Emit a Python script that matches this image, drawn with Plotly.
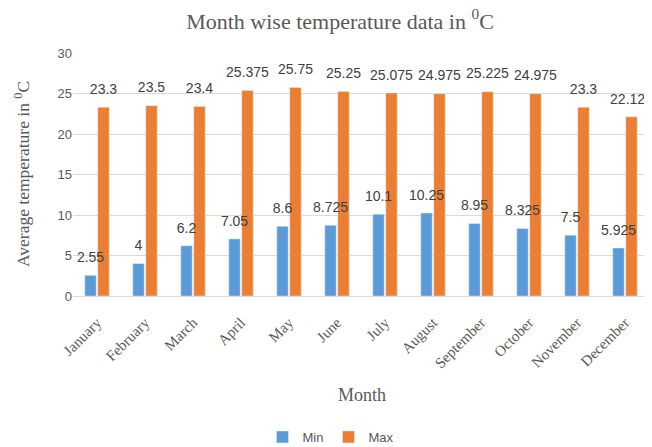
import plotly.graph_objects as go

months = ["January", "February", "March", "April", "May", "June", "July",
          "August", "September", "October", "November", "December"]
min_vals = [2.55, 4, 6.2, 7.05, 8.6, 8.725, 10.1, 10.25, 8.95, 8.325, 7.5, 5.925]
max_vals = [23.3, 23.5, 23.4, 25.375, 25.75, 25.25, 25.075, 24.975, 25.225, 24.975, 23.3, 22.125]
y_ticks = [0, 5, 10, 15, 20, 25, 30]

OFF = 8  # page body margin
W, H = 652 - OFF, 447 - OFF
L, R, T, B = 73 - OFF, 3, 53 - OFF, 151
ph = H - T - B
pw = W - L - R


def px_y(page_y):
    return (T + ph - (page_y - OFF)) / ph


def px_x(page_x):
    return (page_x - OFF - L) / pw


GAP = 0.46
lbl_font = dict(family="Liberation Sans", size=14, color="#404040")
ghost = dict(size=14, color="rgba(0,0,0,0)")

fig = go.Figure()
fig.add_trace(go.Bar(name="Min", x=months, y=min_vals, marker_color="#5B9BD5",
                     offsetgroup="min"))
fig.add_trace(go.Bar(name="Max", x=months, y=max_vals, marker_color="#ED7D31",
                     offsetgroup="max"))
fig.add_trace(go.Scatter(x=months, y=min_vals, mode="markers+text", marker=ghost,
                         text=[str(v) for v in min_vals],
                         textposition="top center", textfont=lbl_font, offsetgroup="min",
                         showlegend=False, hoverinfo="skip", cliponaxis=False))
fig.add_trace(go.Scatter(x=months, y=max_vals, mode="markers+text", marker=ghost,
                         text=[str(v) for v in max_vals],
                         textposition="top center", textfont=lbl_font, offsetgroup="max",
                         showlegend=False, hoverinfo="skip", cliponaxis=False))

fig.update_layout(
    width=W, height=H,
    margin=dict(l=L, r=R, t=T, b=B, autoexpand=False),
    paper_bgcolor="white", plot_bgcolor="white",
    barmode="group", bargap=GAP, bargroupgap=0.12,
    scattermode="group", scattergap=GAP,
    title=dict(text="Month wise temperature data in <sup>0</sup>C", x=(340 - OFF) / W,
               xanchor="center", y=1 - (21 - OFF) / H, yanchor="middle", automargin=False,
               font=dict(family="Liberation Serif", size=22, color="#595959")),
    showlegend=True,
    legend=dict(orientation="h", x=px_x(331), xanchor="center", y=px_y(437),
                yanchor="middle", font=dict(family="Liberation Sans", size=13, color="#595959"),
                itemwidth=30),
)
fig.update_xaxes(tickangle=-45, tickfont=dict(family="Liberation Serif", size=15, color="#595959"),
                 showline=True, linecolor="#D9D9D9", linewidth=1, ticks="", showgrid=False,
                 automargin=False, ticklabelstandoff=11)
fig.update_yaxes(range=[0, 30], tickvals=y_ticks, showgrid=True, gridcolor="#D9D9D9",
                 zeroline=False, showline=False, ticks="", automargin=False,
                 tickfont=dict(family="Liberation Sans", size=13, color="#595959"))

fig.add_annotation(text="Month", xref="paper", yref="paper", x=px_x(362),
                   y=px_y(395), showarrow=False, xanchor="center", yanchor="middle",
                   font=dict(family="Liberation Serif", size=18, color="#595959"))
fig.add_annotation(text="Average temperature in <sup>0</sup>C", xref="paper", yref="paper",
                   x=px_x(22), y=px_y(174), textangle=-90, showarrow=False,
                   xanchor="center", yanchor="middle",
                   font=dict(family="Liberation Serif", size=17.5, color="#595959"))

fig.write_html("out.html")
